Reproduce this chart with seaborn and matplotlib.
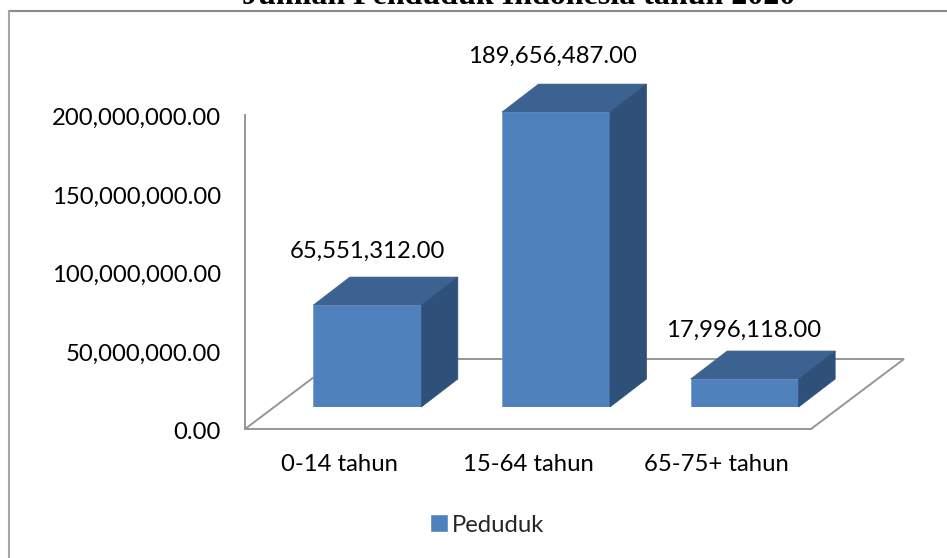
import matplotlib
matplotlib.use('Agg')
import matplotlib.pyplot as plt
from matplotlib.lines import Line2D
from matplotlib.patches import Polygon
from matplotlib.transforms import ScaledTranslation
import pandas as pd
import seaborn as sns

# Data
kelompok = ['0-14 tahun', '15-64 tahun', '65-75+ tahun']
penduduk = [65551312.00, 189656487.00, 17996118.00]
label_nudge = [(0, 26), (-4, 28), (-1, 21)]
yticks = [0, 50000000, 100000000, 150000000, 200000000]

W, H = 947, 558
BIRU = '#4F81BD'
ATAS = '#3C6291'
SISI = '#2F5179'
ABU = '#969696'
PT = 72 / 100  # px -> pt at dpi 100
FS = 17.2

sns.set_theme(style='white')
plt.rcParams['font.family'] = ['Lato', 'DejaVu Sans']

df = pd.DataFrame({'kelompok': kelompok, 'penduduk': penduduk})

fig = plt.figure(figsize=(W / 100, H / 100), dpi=100)


def kotak(x0, y_bawah, lebar, tinggi):
    return [x0 / W, (H - y_bawah) / H, lebar / W, tinggi / H]


# Axis "wall": holds the ticks and the floor of the fake 3D box
wall = fig.add_axes(kotak(245, 429, 566, 314))
wall.set_xlim(-0.5, 2.5)
wall.set_ylim(0, 200000000)
wall.set_xticks(range(3))
wall.set_xticklabels(kelompok, fontsize=FS, color='black')
wall.set_yticks(yticks)
wall.set_yticklabels([f'{v:,.2f}' for v in yticks], fontsize=FS, color='black')
wall.tick_params(axis='x', length=0, pad=25 * PT)
wall.tick_params(axis='y', length=0, pad=24 * PT)
wall.set_facecolor('none')
for s in ['top', 'right']:
    wall.spines[s].set_visible(False)
for s in ['left', 'bottom']:
    wall.spines[s].set_color(ABU)
    wall.spines[s].set_linewidth(1.4)

# y labels sit slightly under their gridline position in the original
turun = ScaledTranslation(0, -1.5 / 100, fig.dpi_scale_trans)
for t in wall.get_yticklabels():
    t.set_transform(t.get_transform() + turun)

# floor edges
px_x = 3 / 566
px_y = 200000000 / 314
floor_dx = 93 * px_x
floor_dy = 70 * px_y
lantai = Polygon(
    [(-0.5, 0), (-0.5 + floor_dx, floor_dy), (2.5 + floor_dx, floor_dy), (2.5, 0)],
    closed=False, fill=False, edgecolor=ABU, linewidth=1.4, clip_on=False
)
wall.add_patch(lantai)

# Bars sit on their own axes, shifted into the depth of the floor
ax = fig.add_axes(kotak(273, 407, 566, 311))
ax.set_facecolor('none')
sns.barplot(data=df, x='kelompok', y='penduduk', color=BIRU, saturation=1,
            width=108 / 188.67, label='Peduduk', ax=ax, legend=False)
ax.set_xlim(-0.5, 2.5)
ax.set_ylim(0, 200000000)
ax.axis('off')

px_y_bar = 200000000 / 311
dx = 36.5 * px_x
dy = 28 * px_y_bar
batang = list(ax.patches)
for rect, nilai, geser in zip(batang, penduduk, label_nudge):
    x0, x1 = rect.get_x(), rect.get_x() + rect.get_width()
    rect.set_edgecolor('#6F9AD0')
    rect.set_linewidth(0.5)
    ax.add_patch(Polygon([(x0, nilai), (x1, nilai), (x1 + dx, nilai + dy), (x0 + dx, nilai + dy)],
                         facecolor=ATAS, edgecolor=ATAS, linewidth=0.5, clip_on=False))
    ax.add_patch(Polygon([(x1, 0), (x1 + dx, dy), (x1 + dx, nilai + dy), (x1, nilai)],
                         facecolor=SISI, edgecolor=SISI, linewidth=0.5, clip_on=False))
    ax.annotate(f'{nilai:,.2f}', (x0 + rect.get_width() / 2, nilai + dy),
                xytext=(geser[0] * PT, geser[1] * PT), textcoords='offset points',
                ha='center', va='center', fontsize=FS, color='black',
                annotation_clip=False)

# Legend
handle = [Polygon([(0, 0)], facecolor=BIRU, label='Peduduk')]
fig.legend(handles=handle, loc='center', bbox_to_anchor=(487 / W, 1 - 525 / H),
           frameon=False, fontsize=FS, handlelength=0.75, handleheight=0.75,
           handletextpad=0.15)

# Frame and clipped title
fig.add_artist(Line2D([9 / W, 1], [1 - 11 / H, 1 - 11 / H], color='#8C8C8C', linewidth=1.5))
fig.add_artist(Line2D([9 / W, 9 / W], [0, 1 - 11 / H], color='#A6A6A6', linewidth=1.5))
fig.text(519 / W, 1 - 4 / H, 'Jumlah Penduduk Indonesia tahun 2020',
         family='Liberation Serif', fontweight='bold', fontsize=23,
         ha='center', va='baseline', color='black')

fig.savefig('out.png', dpi=100)
